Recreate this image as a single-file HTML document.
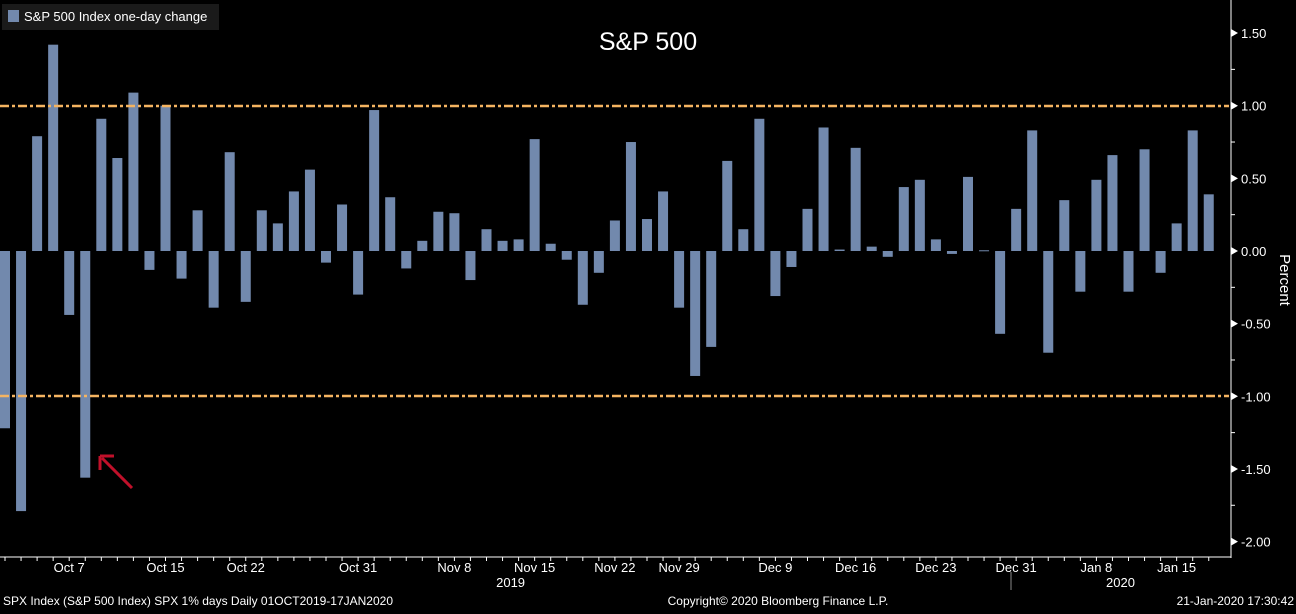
<!DOCTYPE html>
<html><head><meta charset="utf-8"><style>
body{margin:0;background:#000;width:1296px;height:609px;overflow:hidden;font-family:"Liberation Sans",sans-serif}
svg text{font-family:"Liberation Sans",sans-serif}
</style></head><body>
<svg id="c" width="1296" height="609" xmlns="http://www.w3.org/2000/svg">
<rect x="0" y="0" width="1296" height="609" fill="#000"/>
<g id="bars"></g>
<line x1="0" y1="106" x2="1229" y2="106" stroke="#f5b461" stroke-width="2.5" stroke-dasharray="9,3,3,3"/>
<line x1="0" y1="396" x2="1229" y2="396" stroke="#f5b461" stroke-width="2.5" stroke-dasharray="9,3,3,3"/>
<line x1="1231" y1="0" x2="1231" y2="558" stroke="#fff"/>
<line x1="0" y1="557" x2="1231" y2="557" stroke="#fff"/>
<line x1="1011" y1="572" x2="1011" y2="590" stroke="#888"/>
<g id="yaxis"></g>
<g id="xaxis"></g>
<text x="1280" y="280" fill="#fff" font-size="15" text-anchor="middle" transform="rotate(90 1280 280)">Percent</text>
<text x="648" y="50" fill="#fff" font-size="25" text-anchor="middle">S&amp;P 500</text>
<rect x="2" y="4" width="217" height="26" fill="#1a1a1a"/>
<rect x="8" y="10" width="11" height="12" fill="#7289ad"/>
<text x="24" y="21" fill="#fff" font-size="13">S&amp;P 500 Index one-day change</text>
<path d="M132 488 L102 458 M100 456 L100 470 M100 456 L114 456" stroke="#c0102a" stroke-width="3" fill="none"/>
<text x="3" y="605" fill="#fff" font-size="12">SPX Index (S&amp;P 500 Index) SPX 1% days  Daily 01OCT2019-17JAN2020</text>
<text x="778" y="605" fill="#fff" font-size="12" text-anchor="middle">Copyright© 2020 Bloomberg Finance L.P.</text>
<text x="1294" y="605" fill="#fff" font-size="12" text-anchor="end">21-Jan-2020 17:30:42</text>
</svg>
<script>
const values=[-1.22,-1.79,0.79,1.42,-0.44,-1.56,0.91,0.64,1.09,-0.13,1.00,-0.19,0.28,-0.39,0.68,-0.35,0.28,0.19,0.41,0.56,-0.08,0.32,-0.30,0.97,0.37,-0.12,0.07,0.27,0.26,-0.20,0.15,0.07,0.08,0.77,0.05,-0.06,-0.37,-0.15,0.21,0.75,0.22,0.41,-0.39,-0.86,-0.66,0.62,0.15,0.91,-0.31,-0.11,0.29,0.85,0.01,0.71,0.03,-0.04,0.44,0.49,0.08,-0.02,0.51,0.005,-0.57,0.29,0.83,-0.70,0.35,-0.28,0.49,0.66,-0.28,0.70,-0.15,0.19,0.83,0.39];
const yTicks=[1.5,1.0,0.5,0.0,-0.5,-1.0,-1.5,-2.0];
const yTickLabels=["1.50","1.00","0.50","0.00","-0.50","-1.00","-1.50","-2.00"];
const dateLabels=["Oct 7","Oct 15","Oct 22","Oct 31","Nov 8","Nov 15","Nov 22","Nov 29","Dec 9","Dec 16","Dec 23","Dec 31","Jan 8","Jan 15"];
const dateIndex=[4,10,15,22,28,33,38,42,48,53,58,63,68,73];
const yearLabels=["2019","2020"];
const yearIndex=[31.5,69.5];
const NS="http://www.w3.org/2000/svg";
const y=v=>251-v*145.3;
const x=i=>i*16.05;
const BW=10;
const bars=document.getElementById('bars');
values.forEach((v,i)=>{
 const r=document.createElementNS(NS,'rect');
 r.setAttribute('x',x(i));
 r.setAttribute('y',Math.min(y(v),y(0)));
 r.setAttribute('width',BW);
 r.setAttribute('height',Math.max(Math.abs(y(v)-y(0)),1));
 r.setAttribute('fill','#7289ad');
 
 
 bars.appendChild(r);
});
const ya=document.getElementById('yaxis');
yTicks.forEach((t,k)=>{
 const p=document.createElementNS(NS,'path');
 p.setAttribute('d',`M1231 ${y(t)-4} L1238 ${y(t)} L1231 ${y(t)+4}Z`);
 p.setAttribute('fill','#fff');
 
 
 ya.appendChild(p);
 const tx=document.createElementNS(NS,'text');
 tx.setAttribute('x',1241);tx.setAttribute('y',y(t)+5);
 tx.setAttribute('fill','#fff');tx.setAttribute('font-size','13');
 tx.textContent=yTickLabels[k];
 
 
 ya.appendChild(tx);
 if(k<yTicks.length-1){
  const m=document.createElementNS(NS,'line');
  const ym=y(t-0.25);
  m.setAttribute('x1',1231);m.setAttribute('x2',1235);m.setAttribute('y1',ym);m.setAttribute('y2',ym);
  m.setAttribute('stroke','#fff');
  
  
  ya.appendChild(m);
 }
});
const xa=document.getElementById('xaxis');
values.forEach((v,i)=>{
 const l=document.createElementNS(NS,'line');
 const xx=x(i)+BW/2;
 l.setAttribute('x1',xx);l.setAttribute('x2',xx);l.setAttribute('y1',557);l.setAttribute('y2',561);
 l.setAttribute('stroke','#fff');
 
 
 xa.appendChild(l);
});
dateLabels.forEach((d,k)=>{
 const t=document.createElementNS(NS,'text');
 t.setAttribute('x',x(dateIndex[k])+BW/2);t.setAttribute('y',572);
 t.setAttribute('fill','#fff');t.setAttribute('font-size','13');t.setAttribute('text-anchor','middle');
 t.textContent=d;
 
 
 xa.appendChild(t);
});
yearLabels.forEach((d,k)=>{
 const t=document.createElementNS(NS,'text');
 t.setAttribute('x',x(yearIndex[k])+BW/2);t.setAttribute('y',587);
 t.setAttribute('fill','#fff');t.setAttribute('font-size','13');t.setAttribute('text-anchor','middle');
 t.textContent=d;
 
 
 xa.appendChild(t);
});
</script>
</body></html>
